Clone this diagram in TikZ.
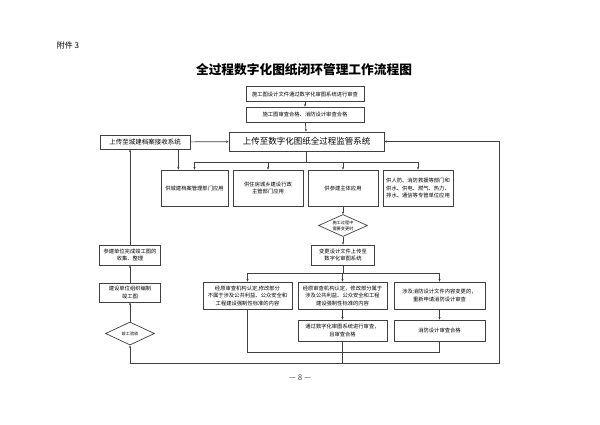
\documentclass[tikz,border=0pt]{standalone}
\usepackage{fontspec}
\setmainfont{Noto Sans CJK SC}
\usepackage{xcolor}
\usetikzlibrary{positioning, arrows.meta, shapes.geometric, calc}

\tikzset{
    procbox/.style={draw=black!75, line width=0.7pt, align=center, inner sep=1pt,
        font=\fontsize{5.3}{7.5}\selectfont},
    decision/.style={draw=black!75, line width=0.7pt, diamond, aspect=2.2, inner sep=0pt,
        align=center, font=\fontsize{4.2}{6}\selectfont},
    link/.style={draw=black!75, line width=0.7pt},
    arr/.style={link, -{Stealth[length=2.6pt, width=2.2pt]}},
}

\begin{document}
\begin{tikzpicture}[x=1pt, y=-1pt]
    \useasboundingbox[fill=white] (0,0) rectangle (600,424);

    % Heading
    \node[font=\fontsize{8}{9}\selectfont] (annex) at (68,45) {附件 3};
    \node[font=\bfseries\fontsize{12.7}{14}\selectfont] (title) at (304,70) {全过程数字化图纸闭环管理工作流程图};

    % Review chain
    \node[procbox, minimum width=118, minimum height=15] (review) at (305,94) {施工图设计文件通过数字化审图系统进行审查};
    \node[procbox, minimum width=118, minimum height=15] (pass) at (305,114.5) {施工图审查合格、消防设计审查合格};
    \node[procbox, font=\fontsize{8.5}{10}\selectfont, minimum width=155, minimum height=19] (supv) at (306.5,141.5) {上传至数字化图纸全过程监管系统};
    \node[procbox, font=\fontsize{6.5}{8}\selectfont, minimum width=90, minimum height=14] (archive) at (145,142) {上传至城建档案接收系统};

    % Application boxes
    \foreach \n/\x/\w/\txt in {A/194.5/67/{供城建档案管理部门应用},
                               B/268/70/{供住房城乡建设行政\\主管部门应用},
                               C/343/70/{供参建主体应用},
                               D/418/70/{供人防、消防救援等部门和\\供水、供电、燃气、热力、\\排水、通信等专管单位应用}} {
        \node[procbox, minimum width=\w, minimum height=36] (\n) at (\x,188) {\txt};
    }

    % Change branch
    \node[decision, minimum width=49, minimum height=22] (change) at (343,225.5) {施工过程中\\需要变更时};
    \node[procbox, minimum width=63, minimum height=20] (upload) at (343,255) {变更设计文件上传至\\数字化审图系统};

    \node[procbox, minimum width=89, minimum height=27] (E) at (247.5,295.5) {经原审查机构认定,修改部分\\不属于涉及公共利益、公众安全和\\工程建设强制性标准的内容};
    \node[procbox, minimum width=89, minimum height=27] (F) at (342.5,295.5) {经原审查机构认定，修改部分属于\\涉及公共利益、公众安全和工程\\建设强制性标准的内容};
    \node[procbox, minimum width=91, minimum height=27] (G) at (439.5,295.5) {涉及消防设计文件内容变更的，\\重新申请消防设计审查};
    \node[procbox, minimum width=89, minimum height=21] (H) at (342.5,330.5) {通过数字化审图系统进行审查，\\且审查合格};
    \node[procbox, minimum width=91, minimum height=21] (I) at (439.5,330.5) {消防设计审查合格};

    % Completion chain
    \node[decision, minimum width=49, minimum height=23] (accept) at (130,333.5) {竣工验收};
    \node[procbox, minimum width=61, minimum height=19] (compile) at (130,292.5) {建设单位组织编制\\竣工图};
    \node[procbox, minimum width=61, minimum height=20] (collect) at (130,255) {参建单位完成竣工图的\\收集、整理};

    % Page number
    \node[font=\fontsize{8}{9}\selectfont, text=black!70] (page) at (300,378) {— 8 —};

    % Top connectors
    \draw[arr] (review) -- (pass);
    \draw[arr] (pass) -- (supv);
    \draw[arr] (archive) -- (supv);

    % Branch to applications
    \coordinate (fork1) at (306.5,162);
    \draw[link] (supv.south) -- (fork1);
    \draw[link] (A.north |- fork1) -- (D.north |- fork1);
    \foreach \n in {A,B,C,D} {
        \draw[arr] (\n.north |- fork1) -- (\n.north);
    }
    \draw[arr] ([xshift=-12]archive.south east) -- ([xshift=-12]archive.south east |- A.north);

    % Change connectors
    \draw[arr] (C) -- (change);
    \draw[arr] (change) -- (upload);
    \coordinate (fork2) at (343,273);
    \draw[link] (upload.south) -- (fork2);
    \draw[link] (E.north |- fork2) -- (G.north |- fork2);
    \foreach \n in {E,F,G} {
        \draw[arr] (\n.north |- fork2) -- (\n.north);
    }
    \draw[arr] (F) -- (H);
    \draw[arr] (G) -- (I);

    % Return loops
    \coordinate (merge) at (343,352);
    \coordinate (loopL) at (130,363);
    \coordinate (loopR) at (499,363);
    \draw[link] (E.south) |- (I.south |- merge) -- (I.south);
    \draw[link] (H.south) -- (H.south |- loopL);
    \draw[arr] (H.south |- loopL) -- (loopL) -- (accept.south);
    \draw[arr] (H.south |- loopL) -- (loopR) |- (supv.east);
    \draw[arr] (accept) -- (compile);
    \draw[arr] (compile) -- (collect);
    \draw[arr] (collect) -- (archive.south -| collect.north);
\end{tikzpicture}
\end{document}
